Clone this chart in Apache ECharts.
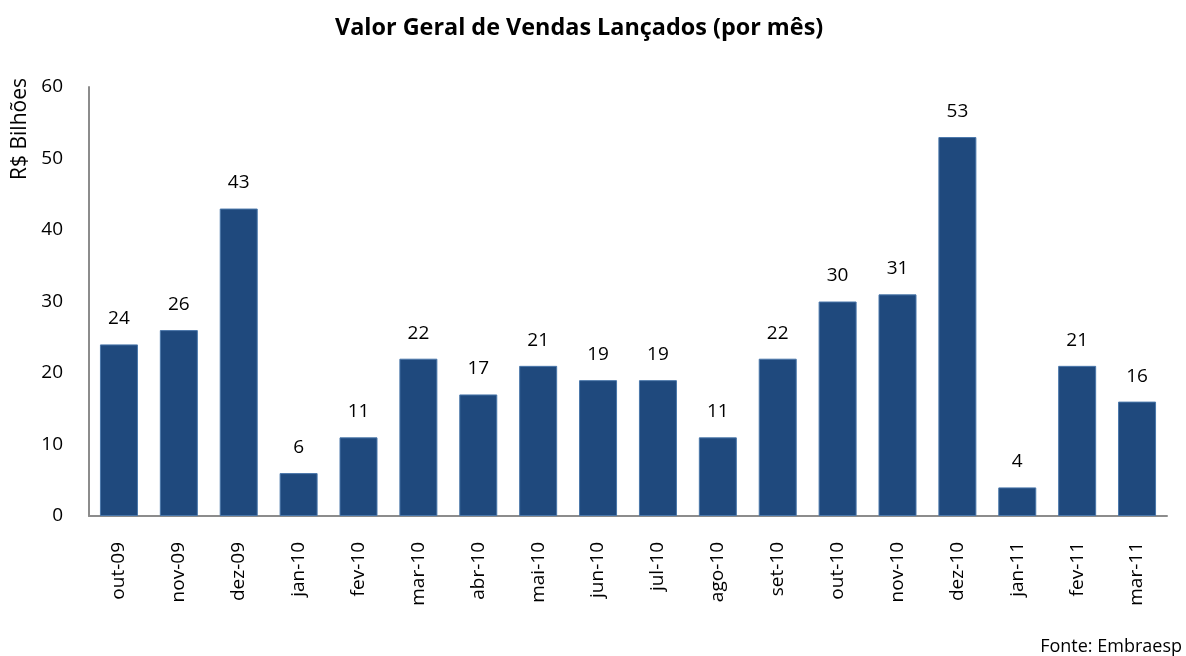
<!DOCTYPE html>
<html>
<head>
<meta charset="utf-8">
<script src="https://cdn.jsdelivr.net/npm/echarts@6/dist/echarts.min.js"></script>
<style>
  html, body { margin: 0; padding: 0; background: #fff; }
  #main { width: 1186px; height: 656px; }
</style>
</head>
<body>
<div id="main"></div>
<script>
// meses e valores (R$ bilhões)
var meses = ['out-09', 'nov-09', 'dez-09', 'jan-10', 'fev-10', 'mar-10', 'abr-10', 'mai-10', 'jun-10',
  'jul-10', 'ago-10', 'set-10', 'out-10', 'nov-10', 'dez-10', 'jan-11', 'fev-11', 'mar-11'];
var valores = [24, 26, 43, 6, 11, 22, 17, 21, 19, 19, 11, 22, 30, 31, 53, 4, 21, 16];

var fonte = '"Open Sans", sans-serif';
var myChart = echarts.init(document.getElementById('main'));

myChart.setOption({
  animation: false,
  title: {
    text: 'Valor Geral de Vendas Lançados (por mês)',
    left: 330,
    top: 12,
    textStyle: { fontFamily: fonte, fontSize: 23.4, fontWeight: 'bold', color: '#000' }
  },
  grid: { left: 89, right: 19, top: 87, bottom: 140 },
  xAxis: {
    type: 'category',
    data: meses,
    axisLine: { lineStyle: { color: '#8c8c8c', width: 2 } },
    axisTick: { show: false },
    axisLabel: { rotate: 90, margin: 26, fontFamily: fonte, fontSize: 19, color: '#000' }
  },
  yAxis: {
    type: 'value',
    min: 0,
    max: 60,
    interval: 10,
    axisLine: { show: true, lineStyle: { color: '#8c8c8c', width: 2 } },
    axisTick: { show: false },
    splitLine: { show: false },
    axisLabel: { margin: 26, fontFamily: fonte, fontSize: 19, color: '#000' }
  },
  graphic: [
    {
      type: 'text',
      x: 20, y: 129,
      rotation: Math.PI / 2,
      style: { text: 'R$ Bilhões', fontFamily: fonte, fontSize: 21, fill: '#000', align: 'center', verticalAlign: 'middle' }
    },
    {
      type: 'text',
      right: 4, bottom: 0,
      style: { text: 'Fonte: Embraesp', fontFamily: fonte, fontSize: 18, fill: '#000' }
    }
  ],
  series: [{
    type: 'bar',
    data: valores,
    barWidth: 38,
    itemStyle: { color: '#1f497d', borderColor: '#4a77aa', borderWidth: 1 },
    label: { show: true, position: 'top', distance: 16, fontFamily: fonte, fontSize: 19, color: '#000' }
  }]
});
</script>
</body>
</html>
